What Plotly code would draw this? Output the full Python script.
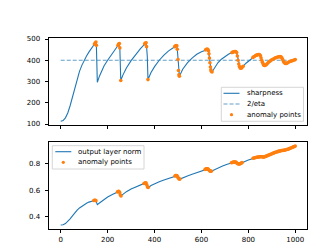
import plotly.graph_objects as go

# ---------------- data ----------------
sharp_x = [0, 10, 20, 30, 40, 50, 60, 70, 80, 90, 100, 110, 120, 130, 140, 144, 147, 150, 152, 156,
           165, 175, 185, 200, 215, 230, 240, 244, 247, 250, 252, 256,
           265, 280, 300, 320, 340, 355, 358, 361, 364, 366, 369, 372,
           385, 400, 420, 440, 460, 480, 486, 489, 492, 495, 497, 500, 502, 504, 506,
           520, 540, 560, 580, 600, 615, 618, 621, 624, 627, 630, 632, 634, 636, 638, 640, 642, 645,
           655, 670, 685, 700, 715, 725, 730, 734, 738, 742, 746, 750, 753, 756, 759, 762, 765, 768,
           771, 774, 778, 790, 805, 815, 819, 823, 827, 831, 835, 839, 843, 847, 851, 854, 857, 860,
           863, 866, 869, 872, 876, 880, 885, 890, 895, 900, 905, 910, 915, 920, 925, 930, 935, 939,
           943, 946, 949, 952, 955, 958, 962, 966, 970, 975, 980, 985, 990, 995, 1000]
sharp_y = [113, 116, 129, 152, 186, 226, 270, 312, 348, 376, 400, 420, 438, 455, 470, 476, 481, 486, 470, 296,
           325, 352, 374, 400, 423, 446, 462, 470, 476, 479, 458, 305,
           330, 364, 398, 428, 455, 472, 477, 481, 482, 464, 420, 309,
           342, 370, 400, 424, 444, 459, 464, 467, 469, 468, 452, 403, 352, 332, 325,
           358, 388, 410, 428, 440, 447, 449, 451, 452, 451, 445, 430, 410, 388, 368, 355, 348, 345,
           362, 388, 405, 418, 428, 434, 436, 438, 440, 441, 441, 436, 420, 400, 382, 370, 364, 362,
           364, 368, 372, 386, 400, 410, 413, 416, 419, 422, 424, 426, 427, 427, 422, 412, 400, 390,
           382, 377, 375, 376, 379, 383, 389, 394, 398, 402, 405, 408, 411, 413, 415, 416, 417, 416,
           411, 404, 396, 390, 387, 385, 385, 387, 390, 393, 395, 397, 399, 401, 403]
eta_x = [0, 1000]
eta_y = [400, 400]
sharp_anom_x = ([144, 147, 150, 152, 244, 247, 250, 252, 256, 358, 361, 364, 366, 372,
                 486, 489, 492, 495, 497, 500, 502, 504, 506,
                 618, 621, 624, 627, 630, 632, 634, 636, 638, 640, 642, 645,
                 730, 734, 738, 742, 746, 750, 753, 756, 759, 762, 765, 768, 771, 774, 778]
                + [x for x in sharp_x if x >= 819])

norm_x = [0, 10, 20, 30, 40, 50, 60, 70, 80, 90, 100, 110, 120, 130, 138, 141, 144, 147, 150, 153, 156,
          165, 180, 200, 220, 235, 242, 245, 248, 251, 254, 257,
          265, 280, 300, 320, 340, 355, 358, 361, 364, 367, 370, 373,
          385, 400, 420, 440, 460, 480, 487, 490, 493, 496, 499, 502, 505, 508,
          520, 540, 560, 580, 600, 612, 615, 618, 621, 624, 627, 630, 633, 636, 639, 642,
          655, 670, 690, 710, 725, 728, 731, 734, 737, 740, 743, 746, 749, 752, 755, 758, 761, 764,
          767, 770, 773, 785, 800, 815, 820, 824, 828, 832, 836, 840, 844, 848, 852, 856, 860, 864,
          868, 872, 876, 880, 884, 888, 892, 896, 900, 904, 908, 912, 916, 920, 924, 928, 932, 936,
          940, 944, 948, 952, 956, 960, 964, 968, 972, 976, 980, 984, 988, 992, 996, 1000]
norm_y = [0.337, 0.339, 0.348, 0.364, 0.384, 0.406, 0.430, 0.450, 0.466, 0.480, 0.492, 0.502, 0.510,
          0.516, 0.520, 0.522, 0.524, 0.524, 0.521, 0.508, 0.491,
          0.503, 0.525, 0.548, 0.567, 0.580, 0.587, 0.590, 0.591, 0.585, 0.565, 0.556,
          0.568, 0.589, 0.609, 0.626, 0.641, 0.651, 0.653, 0.655, 0.654, 0.640, 0.625, 0.620,
          0.635, 0.649, 0.664, 0.677, 0.689, 0.701, 0.707, 0.710, 0.711, 0.709, 0.700, 0.690, 0.684, 0.684,
          0.694, 0.708, 0.720, 0.732, 0.745, 0.753, 0.756, 0.759, 0.761, 0.762, 0.761, 0.756, 0.750,
          0.745, 0.743, 0.744,
          0.756, 0.768, 0.783, 0.796, 0.805, 0.807, 0.809, 0.811, 0.812, 0.813, 0.813, 0.812, 0.808,
          0.803, 0.800, 0.798, 0.798, 0.799,
          0.802, 0.805, 0.808, 0.817, 0.828, 0.838, 0.841, 0.843, 0.845, 0.847, 0.849, 0.850, 0.851,
          0.852, 0.853, 0.853, 0.852, 0.850,
          0.851, 0.854, 0.857, 0.860, 0.863, 0.866, 0.869, 0.872, 0.875, 0.878, 0.881, 0.884, 0.887,
          0.889, 0.891, 0.893, 0.895, 0.897,
          0.899, 0.900, 0.901, 0.902, 0.903, 0.905, 0.907, 0.909, 0.912, 0.915, 0.918, 0.921, 0.924,
          0.927, 0.930, 0.933]
norm_anom_x = ([141, 144, 147, 150, 242, 245, 248, 251, 254, 257, 355, 358, 361, 364, 367, 370, 373,
                487, 490, 493, 496, 499, 502, 505, 508,
                615, 618, 621, 624, 627, 630, 633, 636, 639, 642,
                728, 731, 734, 737, 740, 743, 746, 749, 752, 755, 758, 761, 764, 767, 770, 773]
               + [x for x in norm_x if x >= 820])

x_ticks = [0, 200, 400, 600, 800, 1000]
top_y_ticks = [100, 200, 300, 400, 500]
bot_y_ticks = [0.4, 0.6, 0.8]

sharp_anom_y = [sharp_y[sharp_x.index(x)] for x in sharp_anom_x]
norm_anom_y = [norm_y[norm_x.index(x)] for x in norm_anom_x]

# ---------------- figure ----------------
W, H = 332, 249
BLUE = "#1f77b4"
DASHBLUE = "rgba(31,119,180,0.7)"
ORANGE = "#ff7f0e"
FONT = "DejaVu Sans"


def px(x):
    return x / W


def py(y):
    return 1 - y / H


fig = go.Figure()
fig.add_trace(go.Scatter(x=sharp_x, y=sharp_y, mode="lines", line=dict(color=BLUE, width=1.1),
                         xaxis="x", yaxis="y", showlegend=False))
fig.add_trace(go.Scatter(x=eta_x, y=eta_y, mode="lines",
                         line=dict(color=DASHBLUE, width=1.1, dash="4px,2px"),
                         xaxis="x", yaxis="y", showlegend=False))
fig.add_trace(go.Scatter(x=sharp_anom_x, y=sharp_anom_y, mode="markers",
                         marker=dict(color=ORANGE, size=3.6, line=dict(width=0)),
                         xaxis="x", yaxis="y", showlegend=False))
fig.add_trace(go.Scatter(x=norm_x, y=norm_y, mode="lines", line=dict(color=BLUE, width=1.1),
                         xaxis="x2", yaxis="y2", showlegend=False))
fig.add_trace(go.Scatter(x=norm_anom_x, y=norm_anom_y, mode="markers",
                         marker=dict(color=ORANGE, size=3.6, line=dict(width=0)),
                         xaxis="x2", yaxis="y2", showlegend=False))

axis_common = dict(showline=True, mirror=True, linecolor="black", linewidth=0.8,
                   ticks="outside", ticklen=3.5, tickwidth=0.8, tickcolor="black",
                   showgrid=False, zeroline=False, automargin=False,
                   tickfont=dict(family=FONT, size=7, color="black"))

xdom = [41 / W, 299 / W]
fig.update_layout(
    width=W, height=H,
    margin=dict(l=0, r=0, t=0, b=0),
    paper_bgcolor="white", plot_bgcolor="white",
    xaxis=dict(domain=xdom, range=[-50, 1050], tickvals=x_ticks, showticklabels=False,
               anchor="y", **axis_common),
    yaxis=dict(domain=[1 - 117 / H, 1 - 30 / H], range=[95.3, 504.7], tickvals=top_y_ticks,
               anchor="x", ticklabelstandoff=3, **axis_common),
    xaxis2=dict(domain=xdom, range=[-50, 1050], tickvals=x_ticks,
                anchor="y2", **axis_common),
    yaxis2=dict(domain=[1 - 221 / H, 1 - 134 / H], range=[0.307, 0.964], tickvals=bot_y_ticks,
                tickformat=".1f", anchor="x2", ticklabelstandoff=3, **axis_common),
    showlegend=False,
)

# ---------------- manual legends (matplotlib style) ----------------
shapes = []
annots = []


def legend_box(x0, y0, x1, y1):
    shapes.append(dict(type="rect", xref="paper", yref="paper",
                       x0=px(x0), x1=px(x1), y0=py(y1), y1=py(y0),
                       fillcolor="rgba(255,255,255,0.85)", line=dict(color="#cccccc", width=0.8)))


def legend_line(x0, x1, y, dash=None, color=BLUE):
    shapes.append(dict(type="line", xref="paper", yref="paper",
                       x0=px(x0), x1=px(x1), y0=py(y), y1=py(y),
                       line=dict(color=color, width=1.1, dash=dash)))


def legend_dot(x, y, r=1.6):
    shapes.append(dict(type="circle", xref="paper", yref="paper",
                       x0=px(x - r), x1=px(x + r), y0=py(y + r), y1=py(y - r),
                       fillcolor=ORANGE, line=dict(width=0)))


def legend_text(x, y, t):
    annots.append(dict(xref="paper", yref="paper", x=px(x), y=py(y), text=t, showarrow=False,
                       xanchor="left", yanchor="middle",
                       font=dict(family=FONT, size=7, color="black")))


# top legend
legend_box(213.3, 79.3, 295.5, 113.3)
legend_line(215.5, 231.5, 85.3)
legend_line(215.5, 231.5, 96.0, dash="4px,2px", color=DASHBLUE)
legend_dot(223.5, 106.7)
legend_text(236.5, 85.3, "sharpness")
legend_text(236.5, 96.0, "2/eta")
legend_text(236.5, 106.7, "anomaly points")

# bottom legend
legend_box(44.3, 137.7, 136.0, 161.0)
legend_line(47.3, 63.3, 143.7)
legend_dot(55.3, 154.3)
legend_text(68.3, 143.7, "output layer norm")
legend_text(68.3, 154.3, "anomaly points")

fig.update_layout(shapes=shapes, annotations=annots)

fig.write_html("out.html")
